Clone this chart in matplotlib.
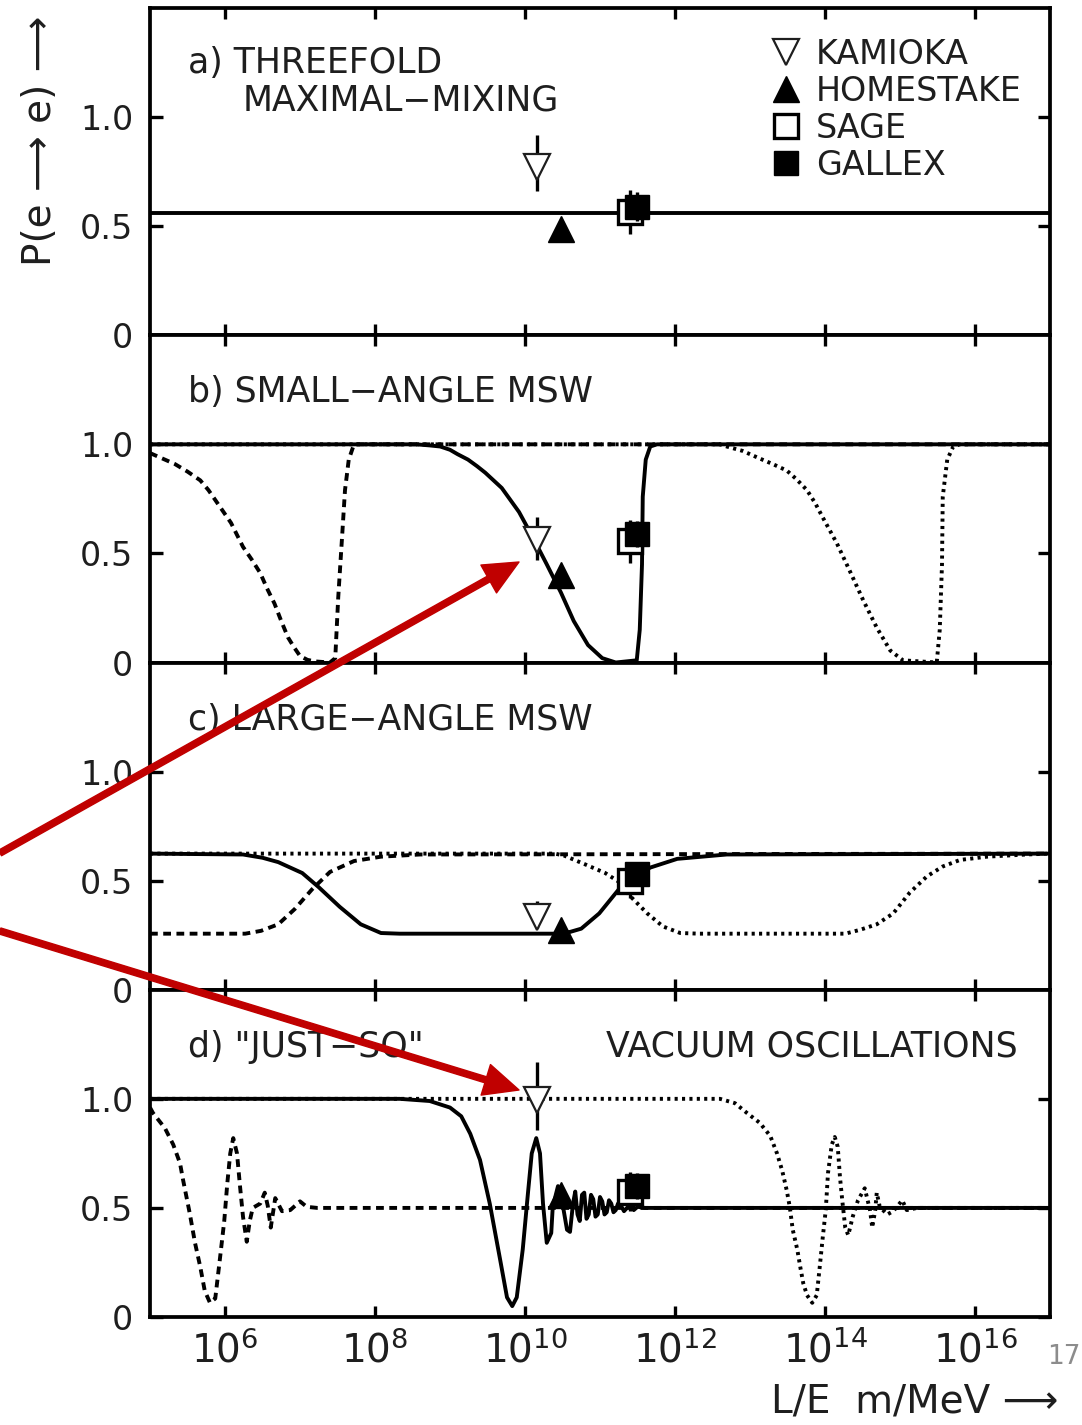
import matplotlib
matplotlib.use('Agg')
import numpy as np
import matplotlib.pyplot as plt
from matplotlib.patches import FancyArrowPatch
from matplotlib.lines import Line2D

# all x values are log10(L/E) in m/MeV, y values are P(e -> e)

# a) threefold maximal mixing
a_lx = [5.0, 17.0]
a_p = [0.56, 0.56]

# b) small-angle MSW
b_dash_lx = [5.00, 5.33, 5.50, 5.67, 5.78, 5.88, 5.98, 6.08, 6.16, 6.24, 6.36, 6.47, 6.56,
             6.66, 6.75, 6.84, 6.92, 7.00, 7.10, 7.20, 7.40, 7.47, 7.51, 7.56, 7.60, 7.65,
             7.72, 17.0]
b_dash_p = [0.96, 0.91, 0.875, 0.835, 0.79, 0.74, 0.69, 0.64, 0.585, 0.53, 0.47, 0.41, 0.34,
            0.27, 0.19, 0.115, 0.07, 0.03, 0.012, 0.005, 0.0, 0.02, 0.30, 0.57, 0.79, 0.93,
            1.0, 1.0]
b_solid_lx = [5.00, 8.55, 8.73, 8.87, 9.00, 9.10, 9.24, 9.36, 9.47, 9.69, 9.92, 10.11, 10.29,
              10.48, 10.65, 10.84, 11.03, 11.21, 11.49, 11.53, 11.56, 11.57, 11.61, 11.67,
              11.76, 17.0]
b_solid_p = [1.00, 1.00, 0.995, 0.99, 0.975, 0.955, 0.93, 0.90, 0.87, 0.80, 0.69, 0.57, 0.45,
             0.32, 0.19, 0.08, 0.02, 0.0, 0.01, 0.15, 0.45, 0.76, 0.93, 0.99, 1.0, 1.0]
b_dot_lx = [5.00, 12.60, 12.69, 12.90, 13.13, 13.30, 13.49, 13.62, 13.76, 13.87, 13.97, 14.16,
            14.33, 14.51, 14.69, 14.87, 15.04, 15.49, 15.53, 15.56, 15.57, 15.63, 15.71,
            15.80, 17.0]
b_dot_p = [1.00, 1.00, 0.99, 0.97, 0.935, 0.91, 0.88, 0.84, 0.79, 0.73, 0.665, 0.545, 0.42,
           0.285, 0.16, 0.055, 0.01, 0.0, 0.15, 0.45, 0.76, 0.93, 0.99, 1.0, 1.0]

# c) large-angle MSW
c_dash_lx = [5.00, 6.27, 6.48, 6.71, 6.93, 7.16, 7.40, 7.72, 8.08, 8.60, 17.0]
c_dash_p = [0.257, 0.257, 0.27, 0.30, 0.37, 0.46, 0.54, 0.59, 0.61, 0.62, 0.624]
c_solid_lx = [5.00, 6.24, 6.50, 6.71, 7.03, 7.25, 7.53, 7.81, 8.08, 8.33, 10.39, 10.60, 10.75,
              10.99, 11.25, 11.47, 11.67, 12.03, 12.69, 17.0]
c_solid_p = [0.624, 0.62, 0.605, 0.585, 0.535, 0.47, 0.38, 0.30, 0.26, 0.257, 0.257, 0.265,
             0.28, 0.35, 0.46, 0.52, 0.56, 0.60, 0.62, 0.624]
c_dot_lx = [5.00, 10.40, 10.52, 10.80, 11.07, 11.25, 11.40, 11.63, 11.84, 12.07, 12.33,
            14.27, 14.47, 14.69, 14.91, 15.13, 15.36, 15.57, 15.80, 16.16, 16.69, 17.0]
c_dot_p = [0.624, 0.624, 0.615, 0.575, 0.535, 0.495, 0.43, 0.35, 0.29, 0.26, 0.257,
           0.257, 0.275, 0.30, 0.35, 0.445, 0.52, 0.565, 0.595, 0.61, 0.62, 0.624]

# d) "just-so" vacuum oscillations
d_dash_lx = [5.00, 5.04, 5.20, 5.31, 5.40, 5.44, 5.53, 5.60, 5.67, 5.73, 5.80, 5.87, 5.93,
             5.99, 6.03, 6.07, 6.11, 6.16, 6.20, 6.24, 6.29, 6.33, 6.37, 6.47, 6.53, 6.57,
             6.61, 6.67, 6.76, 6.87, 7.00, 7.09, 7.23, 17.0]
d_dash_p = [0.96, 0.935, 0.865, 0.79, 0.705, 0.63, 0.475, 0.34, 0.23, 0.12, 0.065, 0.085, 0.26,
            0.44, 0.61, 0.75, 0.82, 0.75, 0.60, 0.46, 0.345, 0.44, 0.50, 0.52, 0.57, 0.51,
            0.41, 0.545, 0.485, 0.49, 0.53, 0.505, 0.50, 0.50]
d_solid_lx = [5.00, 8.33, 8.73, 9.00, 9.15, 9.27, 9.40, 9.53, 9.67, 9.76, 9.83, 9.89, 9.97,
              10.04, 10.09, 10.15, 10.20, 10.24, 10.29, 10.35, 10.37, 10.44, 10.51, 10.56,
              10.60, 10.64, 10.67, 10.70, 10.73, 10.76, 10.79, 10.82, 10.85, 10.88, 10.91,
              10.94, 10.97, 11.00, 11.03, 11.06, 11.09, 11.12, 11.15, 11.18, 11.21, 11.24,
              11.28, 11.32, 11.36, 11.40, 11.45, 11.50, 11.60, 17.0]
d_solid_p = [1.00, 1.00, 0.99, 0.96, 0.92, 0.84, 0.72, 0.52, 0.26, 0.09, 0.05, 0.09, 0.31,
             0.57, 0.75, 0.82, 0.75, 0.52, 0.34, 0.385, 0.505, 0.60, 0.50, 0.40,
             0.39, 0.52, 0.575, 0.47, 0.44, 0.56, 0.57, 0.45, 0.47, 0.56, 0.54,
             0.46, 0.47, 0.55, 0.53, 0.47, 0.48, 0.535, 0.52, 0.48, 0.49, 0.52,
             0.51, 0.485, 0.50, 0.515, 0.49, 0.505, 0.50, 0.50]
d_dot_lx = [5.00, 12.60, 12.80, 12.96, 13.13, 13.27, 13.36, 13.43, 13.49, 13.53, 13.57, 13.63,
            13.67, 13.71, 13.76, 13.83, 13.89, 13.93, 13.97, 14.01, 14.04, 14.09, 14.13,
            14.17, 14.20, 14.23, 14.27, 14.31, 14.37, 14.44, 14.53, 14.60, 14.63, 14.67,
            14.69, 14.73, 14.83, 14.91, 15.03, 15.09, 15.23, 17.0]
d_dot_p = [1.00, 1.00, 0.98, 0.935, 0.89, 0.83, 0.75, 0.67, 0.58, 0.505, 0.40, 0.31,
           0.23, 0.155, 0.10, 0.065, 0.10, 0.23, 0.365, 0.49, 0.66, 0.79, 0.825,
           0.78, 0.64, 0.535, 0.41, 0.375, 0.46, 0.535, 0.59, 0.49, 0.41, 0.49,
           0.57, 0.505, 0.47, 0.485, 0.535, 0.49, 0.50, 0.50]

# experiments: position on the L/E axis and value shown in each panel (a, b, c, d)
exp_names = ['KAMIOKA', 'HOMESTAKE', 'SAGE', 'GALLEX']
exp_lx = [10.16, 10.48, 11.40, 11.49]
kamioka_p = [0.77, 0.56, 0.335, 0.995]
kamioka_lo = [0.11, 0.09, 0.05, 0.14]
kamioka_hi = [0.15, 0.105, 0.07, 0.175]
homestake_p = [0.486, 0.40, 0.275, 0.56]
sage_p = [0.564, 0.555, 0.50, 0.575]
sage_err = [0.10, 0.10, 0.08, 0.09]
gallex_p = [0.59, 0.59, 0.53, 0.60]
gallex_err = [0.065, 0.06, 0.05, 0.06]

panel_titles = ['a) THREEFOLD', 'b) SMALL\u2212ANGLE MSW', 'c) LARGE\u2212ANGLE MSW', 'd) "JUST\u2212SO"']
x_ticks = [6, 8, 10, 12, 14, 16]
y_ticks = [0, 0.5, 1.0]
y_ticklabels = ['0', '0.5', '1.0']

TEXT = '#1e1e1e'
LW = 2.8
DASH = (0, (2.0, 1.4))
DOT = (0, (0.8, 1.1))

plt.rcParams['font.family'] = ['DejaVu Sans']
plt.rcParams['mathtext.fontset'] = 'dejavusans'

fig, axes = plt.subplots(4, 1, sharex=True, figsize=(10.82, 14.25), dpi=100)
fig.subplots_adjust(left=150/1082, right=1050/1082, top=1-8/1425, bottom=1-1317/1425, hspace=0)

curves = [
    [(a_lx, a_p, '-')],
    [(b_dash_lx, b_dash_p, DASH), (b_dot_lx, b_dot_p, DOT), (b_solid_lx, b_solid_p, '-')],
    [(c_dash_lx, c_dash_p, DASH), (c_dot_lx, c_dot_p, DOT), (c_solid_lx, c_solid_p, '-')],
    [(d_dash_lx, d_dash_p, DASH), (d_dot_lx, d_dot_p, DOT), (d_solid_lx, d_solid_p, '-')],
]

for i, ax in enumerate(axes):
    for lx, p, ls in curves[i]:
        ax.plot(10**np.array(lx), p, color='k', lw=LW, ls=ls, zorder=2)

    x = 10**np.array(exp_lx)
    ax.errorbar(x[2], sage_p[i], yerr=sage_err[i], fmt='s', ms=17, mfc='white', mec='k',
                mew=2.4, ecolor='k', elinewidth=2.4, capsize=0, zorder=4)
    ax.errorbar(x[3], gallex_p[i], yerr=gallex_err[i], fmt='s', ms=17, mfc='k', mec='k',
                ecolor='k', elinewidth=2.4, capsize=0, zorder=5)
    ax.errorbar(x[1], homestake_p[i], fmt='^', ms=19, mfc='k', mec='k', zorder=5)
    ax.errorbar(x[0], kamioka_p[i], yerr=[[kamioka_lo[i]], [kamioka_hi[i]]], fmt='v', ms=19,
                mfc='white', mec=TEXT, mew=1.6, ecolor='k', elinewidth=2.4, capsize=0, zorder=5)

    ax.set_xscale('log')
    ax.set_xlim(1e5, 1e17)
    ax.set_ylim(0, 1.5)
    ax.set_xticks([10.0**k for k in x_ticks])
    ax.xaxis.set_minor_locator(matplotlib.ticker.NullLocator())
    ax.set_yticks(y_ticks)
    ax.set_yticklabels(y_ticklabels)
    ax.tick_params(direction='in', top=True, right=True, width=2.4, labelsize=24,
                   labelcolor=TEXT)
    ax.tick_params(axis='x', length=8, pad=12)
    ax.tick_params(axis='y', length=9, pad=12)
    for s in ax.spines.values():
        s.set_linewidth(2.7)

    ax.text(0.042, 0.80 if i == 0 else 0.795, panel_titles[i], transform=ax.transAxes,
            fontsize=25, color=TEXT, va='baseline', ha='left')

axes[0].text(0.103, 0.688, 'MAXIMAL\u2212MIXING', transform=axes[0].transAxes,
             fontsize=25, color=TEXT, va='baseline', ha='left')
axes[3].text(0.964, 0.795, 'VACUUM OSCILLATIONS', transform=axes[3].transAxes,
             fontsize=25, color=TEXT, va='baseline', ha='right')

axes[3].set_xticklabels(['$10^{%d}$' % k for k in x_ticks])
axes[3].tick_params(axis='x', labelsize=28, pad=10)

handles = [
    Line2D([], [], marker='v', ls='none', ms=19, mfc='white', mec=TEXT, mew=1.6),
    Line2D([], [], marker='^', ls='none', ms=19, mfc='k', mec='k'),
    Line2D([], [], marker='s', ls='none', ms=17, mfc='white', mec='k', mew=2.4),
    Line2D([], [], marker='s', ls='none', ms=17, mfc='k', mec='k'),
]
leg = axes[0].legend(handles, exp_names, loc='upper left', bbox_to_anchor=(0.69, 0.909),
                     frameon=False, fontsize=24, labelspacing=0.12, handletextpad=0.45,
                     handlelength=0.9, borderpad=0, borderaxespad=0, numpoints=1)
for t in leg.get_texts():
    t.set_color(TEXT)

fig.text(40/1082, 1-141/1425, 'P(e \u27f6 e) \u27f6', rotation=90, ha='center', va='center',
         fontsize=28, color=TEXT)
fig.text(1058/1082, 1-1412/1425, 'L/E  m/MeV \u27f6', ha='right', va='baseline',
         fontsize=28, color=TEXT)
fig.text(1064/1082, 1-1357/1425, '17', ha='center', va='center', fontsize=19, color='0.55')

# red arrows pointing at the Kamioka points
for start, end in [((0, 853), (519, 562)), ((0, 931), (519, 1090))]:
    arrow = FancyArrowPatch((start[0]/1082, 1-start[1]/1425), (end[0]/1082, 1-end[1]/1425),
                            transform=fig.transFigure,
                            arrowstyle='simple,head_length=25,head_width=23,tail_width=4.5',
                            mutation_scale=1, color='#c00000', shrinkA=0, shrinkB=0, zorder=10)
    fig.add_artist(arrow)

fig.savefig('out.png', dpi=100)
